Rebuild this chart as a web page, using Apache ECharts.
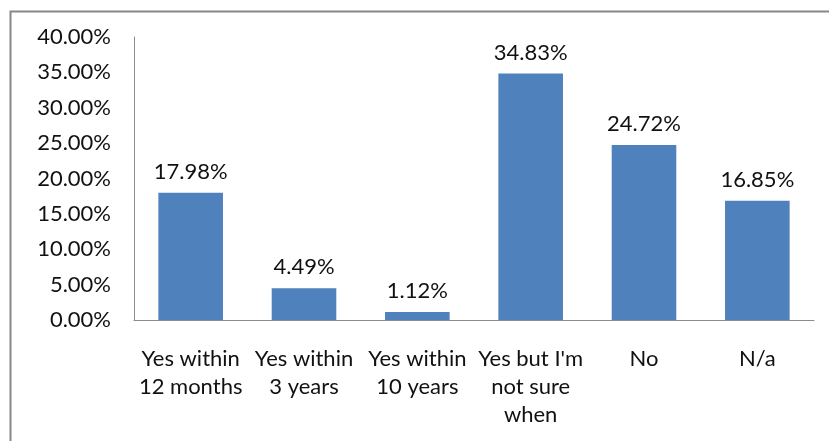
<!DOCTYPE html>
<html><head><meta charset="utf-8">
<script src="https://cdn.jsdelivr.net/npm/echarts@6/dist/echarts.min.js"></script>
<style>html,body{margin:0;padding:0;background:#fff}#c{width:829px;height:441px}</style>
</head><body><div id="c"></div>
<script>
const categories = ["Yes within\n12 months", "Yes within\n3 years", "Yes within\n10 years", "Yes but I'm\nnot sure\nwhen", "No", "N/a"];
const values = [17.98, 4.49, 1.12, 34.83, 24.72, 16.85];
const yTicks = { min: 0, max: 40, interval: 5 };
const FONT = 'Lato';
const chart = echarts.init(document.getElementById('c'));
chart.setOption({
  animation: false,
  graphic: [{ type: 'rect', shape: { x: 10.5, y: 11.5, width: 840, height: 460 }, style: { fill: 'none', stroke: '#878787', lineWidth: 2 } }],
  grid: { left: 134, right: 15, top: 37, bottom: 121 },
  xAxis: {
    type: 'category', data: categories,
    axisLine: { lineStyle: { color: '#8c8c8c', width: 1 } },
    axisTick: { show: false },
    axisLabel: { color: '#111', fontFamily: FONT, fontSize: 22, margin: 25, lineHeight: 28, interval: 0 }
  },
  yAxis: {
    type: 'value', min: yTicks.min, max: yTicks.max, interval: yTicks.interval,
    axisLine: { show: true, lineStyle: { color: '#8c8c8c', width: 1 } },
    axisTick: { show: false },
    splitLine: { show: false },
    axisLabel: { color: '#111', fontFamily: FONT, fontSize: 22, margin: 23, formatter: v => v.toFixed(2) + '%' }
  },
  series: [{
    type: 'bar', data: values, barCategoryGap: '43%',
    itemStyle: { color: '#4F81BD' },
    label: { show: true, position: 'top', distance: 10, color: '#111', fontFamily: FONT, fontSize: 22, formatter: p => p.value.toFixed(2) + '%' }
  }]
});
</script></body></html>
